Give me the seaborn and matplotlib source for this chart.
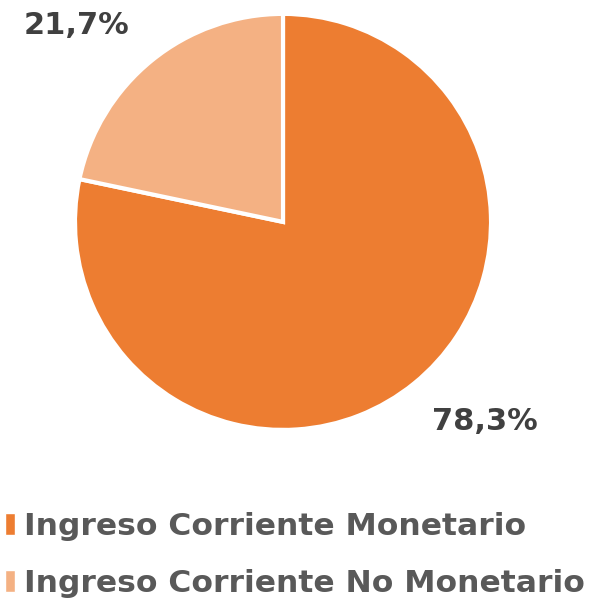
import matplotlib
matplotlib.use("Agg")
import matplotlib.pyplot as plt
from matplotlib.patches import Patch
import seaborn as sns

sns.set_style("white")
plt.rcParams['font.family'] = ['DejaVu Sans']

categorias = ["Ingreso Corriente Monetario", "Ingreso Corriente No Monetario"]
valores = [78.3, 21.7]
etiquetas = ["78,3%", "21,7%"]
colores = ["#ED7D31", "#F4B183"]

fig = plt.figure(figsize=(5.98, 6.03), dpi=100)
ax = fig.add_axes([0.1254, 0.287, 0.6957, 0.690])
ax.pie(valores, colors=colores, startangle=90, counterclock=False,
       wedgeprops=dict(edgecolor="white", linewidth=3))
ax.set_xlim(-1, 1)
ax.set_ylim(-1, 1)
ax.set_aspect("equal")

fig.text(485 / 598, 1 - 421 / 603, etiquetas[0], ha="center", va="center",
         fontsize=22, fontweight="bold", color="#404040")
fig.text(77 / 598, 1 - 25 / 603, etiquetas[1], ha="center", va="center",
         fontsize=22, fontweight="bold", color="#404040")

handles = [Patch(facecolor=c) for c in colores]
fig.legend(handles, categorias, loc="upper left", bbox_to_anchor=(-0.012, 0.172),
           frameon=False, labelcolor="#595959",
           prop=dict(weight="bold", size=22.6),
           handlelength=0.3, handleheight=0.7, handletextpad=0.3,
           labelspacing=0.9, borderaxespad=0)

fig.savefig("out.png", dpi=100)
